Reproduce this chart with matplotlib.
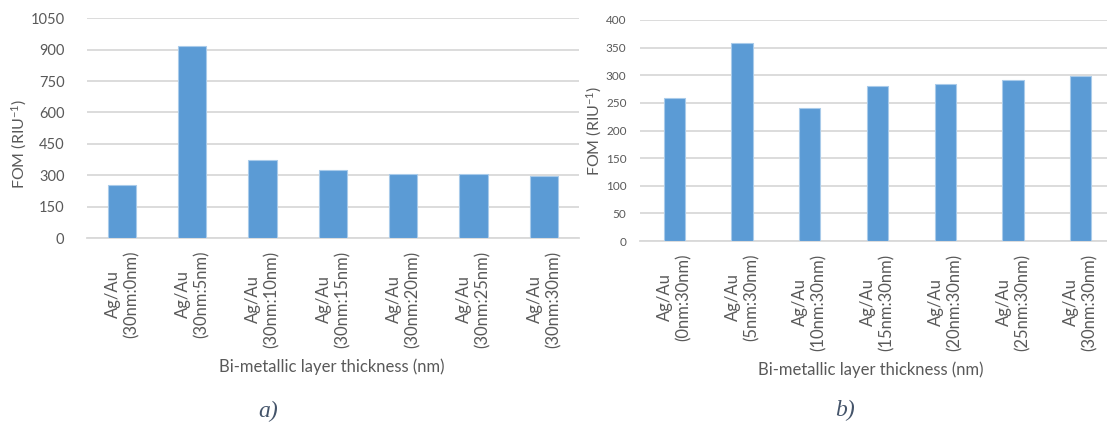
import matplotlib
matplotlib.use("Agg")
import matplotlib.pyplot as plt

# ---------------- data ----------------
labels_a = ["Ag/Au\n(30nm:0nm)", "Ag/Au\n(30nm:5nm)", "Ag/Au\n(30nm:10nm)", "Ag/Au\n(30nm:15nm)",
            "Ag/Au\n(30nm:20nm)", "Ag/Au\n(30nm:25nm)", "Ag/Au\n(30nm:30nm)"]
fom_a = [255, 919, 371, 323, 307, 304, 295]
yticks_a = [0, 150, 300, 450, 600, 750, 900, 1050]

labels_b = ["Ag/Au\n(0nm:30nm)", "Ag/Au\n(5nm:30nm)", "Ag/Au\n(10nm:30nm)", "Ag/Au\n(15nm:30nm)",
            "Ag/Au\n(20nm:30nm)", "Ag/Au\n(25nm:30nm)", "Ag/Au\n(30nm:30nm)"]
fom_b = [259, 358, 241, 280, 284, 291, 298]
yticks_b = [0, 50, 100, 150, 200, 250, 300, 350, 400]

xlabel = "Bi-metallic layer thickness (nm)"
ylabel = "FOM (RIU$^{-1}$)"

# ---------------- style ----------------
plt.rcParams['font.family'] = ['Lato', 'DejaVu Sans']
plt.rcParams['mathtext.fontset'] = 'custom'
plt.rcParams['mathtext.rm'] = 'Lato'
plt.rcParams['mathtext.it'] = 'Lato:italic'
plt.rcParams['mathtext.bf'] = 'Lato:bold'

BAR = '#5B9BD5'
EDGE = '#A9CBEA'
GRID = '#D9D9D9'
TXT = '#595959'

W, H = 1107, 428
fig = plt.figure(figsize=(W / 100, H / 100), dpi=100)


def px(x0, y_top, x1, y_bot):
    return [x0 / W, 1 - y_bot / H, (x1 - x0) / W, (y_bot - y_top) / H]


def style(ax, labels, vals, yt, width, ytick_fs, ypad, xtick_fs):
    x = list(range(len(vals)))
    ax.bar(x, vals, width=width, color=BAR, edgecolor=EDGE, linewidth=0.8, zorder=3)
    ax.set_xlim(-0.5, len(vals) - 0.5)
    ax.set_ylim(yt[0], yt[-1])
    ax.set_yticks(yt)
    ax.set_yticklabels([str(v) for v in yt])
    ax.yaxis.grid(True, color=GRID, linewidth=1.3, zorder=0)
    for s in ['top', 'right', 'left']:
        ax.spines[s].set_visible(False)
    ax.spines['bottom'].set_color(GRID)
    ax.spines['bottom'].set_linewidth(1.3)
    ax.tick_params(axis='y', length=0, pad=ypad, labelsize=ytick_fs, labelcolor=TXT)
    ax.set_xticks(x)
    ax.set_xticklabels(labels, rotation=90, ha='center', va='top',
                       multialignment='center', linespacing=1.2)
    ax.tick_params(axis='x', length=0, pad=9, labelsize=xtick_fs, labelcolor=TXT)


ax1 = fig.add_axes(px(86.7, 18.3, 579, 238))
style(ax1, labels_a, fom_a, yticks_a, 0.40, 10.5, 16, 12)

ax2 = fig.add_axes(px(640.4, 20, 1114.6, 241))
style(ax2, labels_b, fom_b, yticks_b, 0.315, 8.5, 10, 12)

# axis titles
fig.text(19 / W, 1 - 144 / H, ylabel, rotation=90, ha='center', va='center',
         fontsize=11.5, color=TXT)
fig.text(594 / W, 1 - 131 / H, ylabel, rotation=90, ha='center', va='center',
         fontsize=11.5, color=TXT)
fig.text(332 / W, 1 - 367 / H, xlabel, ha='center', va='center', fontsize=12, color=TXT)
fig.text(871 / W, 1 - 370 / H, xlabel, ha='center', va='center', fontsize=12, color=TXT)

# panel letters
fig.text(268 / W, 1 - 411 / H, "a)", ha='center', va='center', fontsize=17,
         family='Liberation Serif', style='italic', color='#44546A')
fig.text(845 / W, 1 - 410 / H, "b)", ha='center', va='center', fontsize=17,
         family='Liberation Serif', style='italic', color='#44546A')

fig.savefig("out.png", dpi=100, facecolor='white')
